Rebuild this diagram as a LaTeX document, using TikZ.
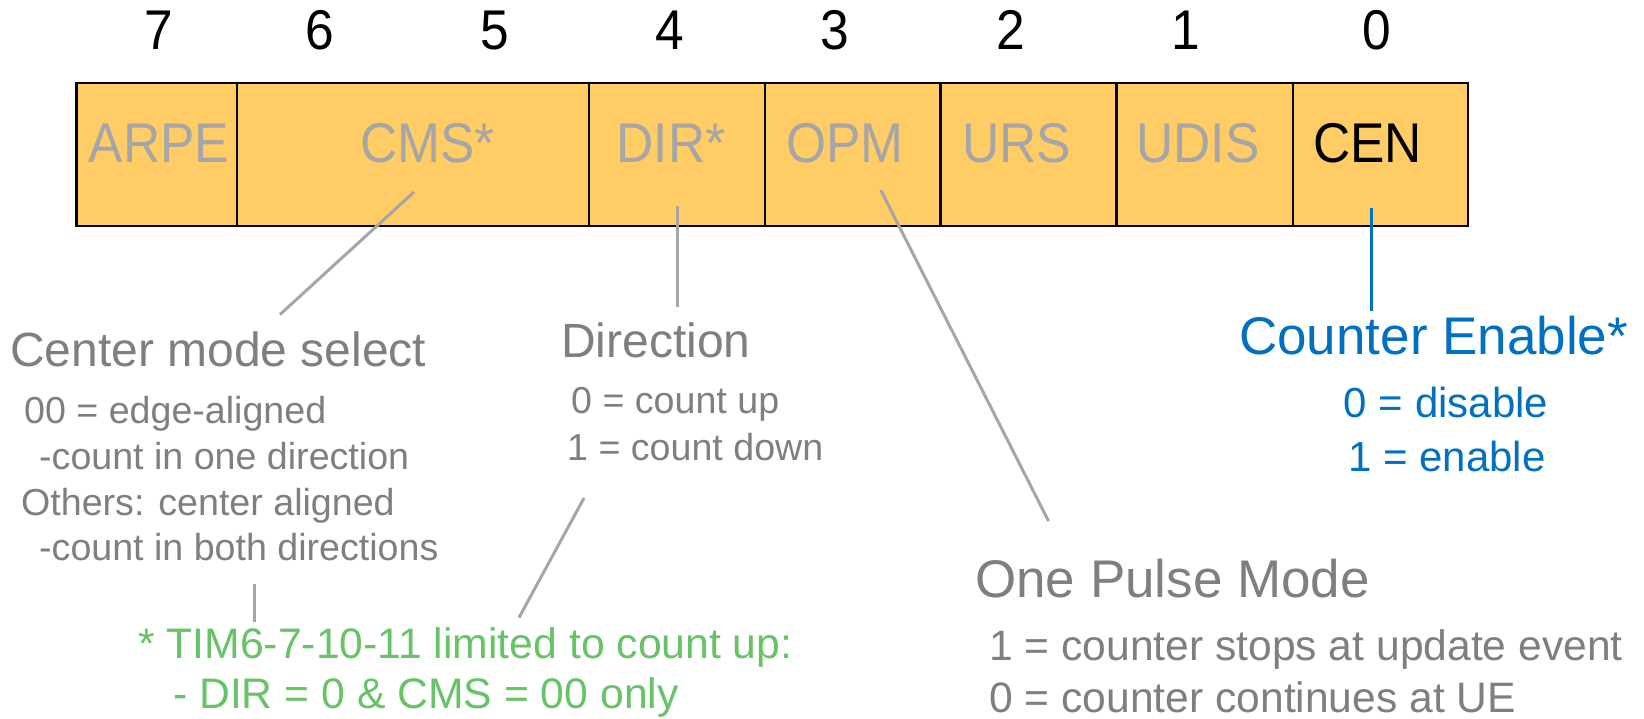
\documentclass[tikz,border=0pt]{standalone}
\usepackage{fontspec}
\setmainfont{Liberation Sans}
\newfontfamily\narrowsans[FakeStretch=0.92]{Liberation Sans}
\definecolor{cellfill}{HTML}{FFCC66}
\definecolor{fieldgray}{HTML}{A6A6A6}
\definecolor{headgray}{HTML}{7F7F7F}
\definecolor{linegray}{HTML}{A6A6A6}
\definecolor{cenblue}{HTML}{0070C0}
\definecolor{notegreen}{HTML}{66C466}
\newcommand{\fsz}[1]{\fontsize{#1}{#1}\selectfont}
\begin{document}
\begin{tikzpicture}[x=1pt,y=-1pt,
  cellbox/.style={draw=black,line width=2.2pt,fill=cellfill,inner sep=0pt,outer sep=0pt,
    minimum height=143pt,anchor=north west},
  bitnum/.style={inner sep=0pt,anchor=base,font=\narrowsans\fsz{56}},
  fieldname/.style={inner sep=0pt,anchor=base,font=\narrowsans\fsz{56},text=fieldgray},
  headtext/.style={inner sep=0pt,anchor=base west,font=\fsz{48},text=headgray},
  subtext/.style={inner sep=0pt,anchor=base west,font=\fsz{37.6},text=headgray},
  optext/.style={inner sep=0pt,anchor=base west,font=\fsz{42.6},text=headgray},
  bluehead/.style={inner sep=0pt,anchor=base west,font=\fsz{53},text=cenblue},
  bluesub/.style={inner sep=0pt,anchor=base,font=\fsz{42},text=cenblue},
  notetext/.style={inner sep=0pt,anchor=base west,font=\fsz{42.7},text=notegreen},
  leader/.style={draw=linegray,line width=3pt},
  blueleader/.style={draw=cenblue,line width=3pt}]
\useasboundingbox (0,0) rectangle (1644,718);
\fill[white] (0,0) rectangle (1644,718);

% register cells
\node[cellbox,minimum width=160.5pt] (arpe) at (76.5,83) {};
\node[cellbox,minimum width=352pt] (cms) at (237,83) {};
\node[cellbox,minimum width=176pt] (dir) at (589,83) {};
\node[cellbox,minimum width=175.5pt] (opm) at (765,83) {};
\node[cellbox,minimum width=176pt] (urs) at (940.5,83) {};
\node[cellbox,minimum width=176.2pt] (udis) at (1116.6,83) {};
\node[cellbox,minimum width=175.2pt] (cen) at (1292.8,83) {};

% bit numbers
\node[bitnum] (b7) at (158.5,49.5) {7};
\node[bitnum] (b6) at (319.6,49.5) {6};
\node[bitnum] (b5) at (495,49.5) {5};
\node[bitnum] (b4) at (670,49.5) {4};
\node[bitnum] (b3) at (835,49.5) {3};
\node[bitnum] (b2) at (1011,49.5) {2};
\node[bitnum] (b1) at (1186,49.5) {1};
\node[bitnum] (b0) at (1376.6,49.5) {0};

% field names
\node[fieldname] (tarpe) at (159,162) {ARPE};
\node[fieldname] (tcms) at (427.5,162) {CMS*};
\node[fieldname] (tdir) at (671,162) {DIR*};
\node[fieldname] (topm) at (845,162) {OPM};
\node[fieldname] (turs) at (1016.6,162) {URS};
\node[fieldname] (tudis) at (1198,162) {UDIS};
\node[fieldname,text=black] (tcen) at (1367.5,162) {CEN};

% center mode select
\node[headtext] (cmshead) at (10,366) {Center mode select};
\node[subtext] (cms1) at (24,423.5) {00 = edge-aligned};
\node[subtext] (cms2) at (39,469) {-count in one direction};
\node[subtext] (cms3) at (21,515) {Others: center aligned};
\node[subtext] (cms4) at (39,560.5) {-count in both directions};

% direction
\node[headtext] (dirhead) at (561,357) {Direction};
\node[subtext] (dir1) at (571,413.5) {0 = count up};
\node[subtext] (dir2) at (567,460) {1 = count down};

% counter enable
\node[bluehead] (cenhead) at (1239,354) {Counter Enable*};
\node[bluesub] (cen1) at (1446,417) {0 = disable};
\node[bluesub] (cen2) at (1447,471) {1 = enable};

% one pulse mode
\node[headtext,font=\fsz{53}] (opmhead) at (975,597) {One Pulse Mode};
\node[optext] (opm1) at (989,660) {1 = counter stops at update event};
\node[optext] (opm2) at (989,712) {0 = counter continues at UE};

% footnote
\node[notetext] (note1) at (138,658) {* TIM6-7-10-11 limited to count up:};
\node[notetext] (note2) at (173,708) {- DIR = 0 \& CMS = 00 only};

% leader lines
\coordinate (cmsA) at (414,192);
\coordinate (cmsB) at (280,314.5);
\coordinate (dirA) at (677.3,205.5);
\coordinate (dirB) at (677.3,307);
\coordinate (opmA) at (880.7,190);
\coordinate (opmB) at (1048.5,521);
\coordinate (cenA) at (1371.4,207.6);
\coordinate (cenB) at (1371.4,311);
\coordinate (noteA) at (254.8,584);
\coordinate (noteB) at (254.8,621.7);
\coordinate (noteC) at (584,498);
\coordinate (noteD) at (519,617.6);
\draw[leader] (cmsA) -- (cmsB);
\draw[leader] (dirA) -- (dirB);
\draw[leader] (opmA) -- (opmB);
\draw[blueleader] (cenA) -- (cenB);
\draw[leader] (noteA) -- (noteB);
\draw[leader] (noteC) -- (noteD);
\end{tikzpicture}
\end{document}
